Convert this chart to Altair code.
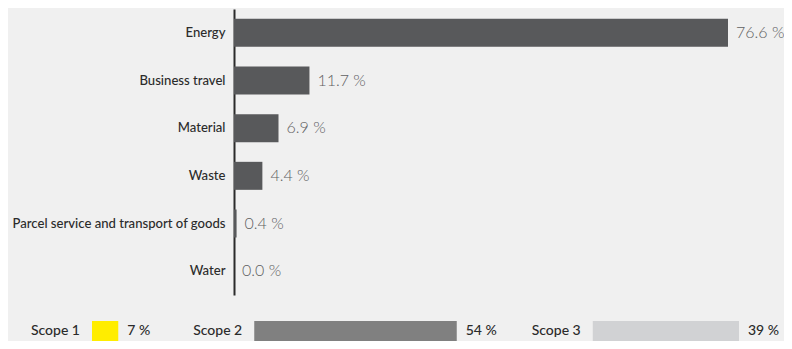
import altair as alt
import pandas as pd

categories = ["Energy", "Business travel", "Material", "Waste",
              "Parcel service and transport of goods", "Water"]
shares = [76.6, 11.7, 6.9, 4.4, 0.4, 0.0]

scopes = ["Scope 1", "Scope 2", "Scope 3"]
scope_shares = [7, 54, 39]
scope_colors = ["#ffed00", "#808080", "#d1d2d4"]

BG = "#f0f0f0"
BAR = "#58595b"
FONT = "Lato"

TOTAL_W, TOTAL_H = 776, 333
PAD_L, PAD_T = 226, 1
PLOT_W, PLOT_H = TOTAL_W - PAD_L, 286
PAD_B = TOTAL_H - PAD_T - PLOT_H

bars = pd.DataFrame({
    "category": categories,
    "share": shares,
    "label": [f"{v:.1f} %" for v in shares],
})

# legend row layout (pixel units across the whole chart width)
gap = 136
start = 84
end = 731
px_per_pct = (end - start - 2 * gap) / sum(scope_shares)
rows = []
x = start
for name, v, c in zip(scopes, scope_shares, scope_colors):
    w = v * px_per_pct
    rows.append({"scope": name, "x0": x, "x1": x + w, "pct": f"{v} %", "color": c})
    x = x + w + gap
legend = pd.DataFrame(rows)

xmax = max(shares) * PLOT_W / 494.0
xscale = alt.Scale(domain=[0, xmax], nice=False, zero=True)
yenc = alt.Y("category:N", sort=categories, title=None,
             scale=alt.Scale(paddingInner=0.42, paddingOuter=0.21),
             axis=alt.Axis(domain=True, domainColor="#2b2b2b", domainWidth=2,
                           ticks=False, grid=False, labelFont=FONT,
                           labelFontSize=13.1, labelFontWeight=500,
                           labelColor="#2b2b2b", labelPadding=9,
                           labelLimit=300))

bar_layer = alt.Chart(bars).mark_bar(color=BAR, size=28).encode(
    x=alt.X("share:Q", scale=xscale, axis=None),
    y=yenc,
)
text_layer = alt.Chart(bars).mark_text(
    align="left", baseline="middle", dx=8, font=FONT, fontSize=16,
    fontWeight=300, color="#5f6062"
).encode(
    x=alt.X("share:Q", scale=xscale, axis=None),
    y=alt.Y("category:N", sort=categories),
    text="label:N",
)

lscale = alt.Scale(domain=[0, TOTAL_W], range=[-PAD_L, TOTAL_W - PAD_L],
                   nice=False, zero=False)
box_y0 = 312
box_y1 = 332
box_mid = (box_y0 + box_y1) / 2
box_layer = alt.Chart(legend).mark_rect().encode(
    x=alt.X("x0:Q", scale=lscale, axis=None),
    x2="x1:Q",
    y=alt.value(box_y0),
    y2=alt.value(box_y1),
    color=alt.Color("color:N", scale=None, legend=None),
)
name_layer = alt.Chart(legend).mark_text(
    align="right", baseline="middle", dx=-12, font=FONT, fontSize=14,
    fontWeight=500, color="#2b2b2b"
).encode(
    x=alt.X("x0:Q", scale=lscale, axis=None),
    y=alt.value(box_mid),
    text="scope:N",
)
pct_layer = alt.Chart(legend).mark_text(
    align="left", baseline="middle", dx=9, font=FONT, fontSize=14,
    fontWeight=500, color="#2b2b2b"
).encode(
    x=alt.X("x1:Q", scale=lscale, axis=None),
    y=alt.value(box_mid),
    text="pct:N",
)

chart = alt.layer(
    alt.layer(bar_layer, text_layer),
    alt.layer(box_layer, name_layer, pct_layer),
).resolve_scale(x="independent", color="independent").properties(
    width=PLOT_W, height=PLOT_H,
    padding={"left": PAD_L, "top": PAD_T, "right": 0, "bottom": PAD_B},
    autosize=alt.AutoSizeParams(type="none"),
    background=BG,
).configure_view(stroke=None)

chart.save("out.html", embed_options={"renderer": "svg", "actions": False})
